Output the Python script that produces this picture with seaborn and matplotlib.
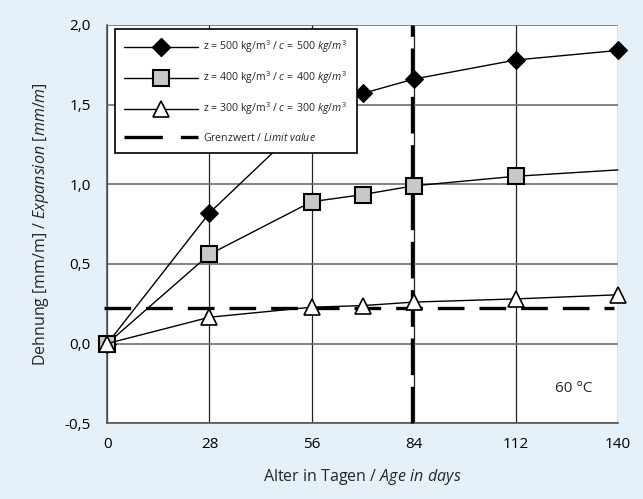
import matplotlib
matplotlib.use("Agg")
import matplotlib.pyplot as plt
import seaborn as sns
import pandas as pd
from matplotlib.lines import Line2D

days = [0, 28, 56, 70, 84, 112, 140]
z500 = [0.0, 0.82, 1.43, 1.57, 1.66, 1.78, 1.84]
z400 = [0.0, 0.56, 0.89, 0.935, 0.99, 1.05, 1.09]
z300 = [0.0, 0.165, 0.228, 0.238, 0.26, 0.28, 0.306]
limit_x = [-1, 139]
limit_y = [0.22, 0.22]
limit_day = 83.5
xticks = [0, 28, 56, 84, 112, 140]
yticks = [-0.5, 0.0, 0.5, 1.0, 1.5, 2.0]
yticklabels = ["-0,5", "0,0", "0,5", "1,0", "1,5", "2,0"]
labels = [r"z = 500 kg/m$^3$ / $\it{c\,{=}\,500\ kg/m^3}$",
          r"z = 400 kg/m$^3$ / $\it{c\,{=}\,400\ kg/m^3}$",
          r"z = 300 kg/m$^3$ / $\it{c\,{=}\,300\ kg/m^3}$",
          r"Grenzwert / $\it{Limit\ value}$"]

sns.set_theme(style="white")
plt.rcParams['font.family'] = ['Open Sans', 'DejaVu Sans']
plt.rcParams['mathtext.fontset'] = 'custom'
plt.rcParams['mathtext.rm'] = 'Open Sans'
plt.rcParams['mathtext.it'] = 'Open Sans:italic'

bg = '#e5f0f8'
fig = plt.figure(figsize=(6.43, 4.99), dpi=100, facecolor=bg)
ax = fig.add_axes([0.167, 0.152, 0.794, 0.798])
ax.set_facecolor('white')

df = pd.DataFrame({"day": days, "z500": z500, "z400": z400, "z300": z300})

sns.lineplot(x=limit_x, y=limit_y, ax=ax, color='black', lw=2.4, zorder=3)
ax.lines[-1].set_linestyle((0, (8, 4.5)))
ax.axvline(limit_day, color='black', lw=2.4, linestyle=(0, (11, 3.5)), zorder=3)

sns.lineplot(data=df, x="day", y="z500", ax=ax, color='black', lw=1, marker='D',
             markersize=9, markerfacecolor='black', markeredgecolor='black', zorder=4)
sns.lineplot(data=df, x="day", y="z400", ax=ax, color='black', lw=1, marker='s',
             markersize=12, markerfacecolor='#c8c8c8', markeredgecolor='black',
             markeredgewidth=1.5, markevery=[0, 1, 2, 3, 4, 5], zorder=4)
sns.lineplot(data=df, x="day", y="z300", ax=ax, color='black', lw=1, marker='^',
             markersize=12, markerfacecolor='white', markeredgecolor='black',
             markeredgewidth=1.2, zorder=5)
for ln in ax.lines:
    ln.set_clip_on(False)

ax.set_xlim(0, 140)
ax.set_ylim(-0.5, 2.0)
ax.set_xticks(xticks)
ax.set_xticklabels([str(t) for t in xticks])
ax.set_yticks(yticks)
ax.set_yticklabels(yticklabels)
ax.xaxis.grid(True, color='#222222', lw=0.9)
ax.yaxis.grid(True, color='#6e6e6e', lw=1.2)
ax.set_axisbelow(True)
for s in ['top', 'right']:
    ax.spines[s].set_visible(False)
for s in ['left', 'bottom']:
    ax.spines[s].set_color('#555555')
    ax.spines[s].set_linewidth(1.2)
ax.tick_params(axis='both', direction='inout', length=8, width=1, color='#555555',
               labelsize=11, labelcolor='black')
ax.tick_params(axis='y', pad=8)
ax.tick_params(axis='x', pad=6)

ax.set_xlabel(r"Alter in Tagen / $\it{Age\ in\ days}$", fontsize=11.5, labelpad=11)
ax.set_ylabel(r"Dehnung [mm/m] / $\it{Expansion\ [mm/m]}$", fontsize=11.5, labelpad=10)

ax.text(128, -0.28, "60 °C", fontsize=11, ha='center', va='center')

handles = [
    Line2D([], [], color='black', lw=1, marker='D', markersize=9, markerfacecolor='black'),
    Line2D([], [], color='black', lw=1, marker='s', markersize=12, markerfacecolor='#c8c8c8',
           markeredgecolor='black', markeredgewidth=1.5),
    Line2D([], [], color='black', lw=1, marker='^', markersize=12, markerfacecolor='white',
           markeredgecolor='black', markeredgewidth=1.2),
    Line2D([], [], color='black', lw=2.4, linestyle=(0, (11.5, 5.4))),
]
leg = ax.legend(handles, labels, loc='upper left', bbox_to_anchor=(0.01, 0.995),
                fontsize=7.6, handlelength=7, frameon=True, fancybox=False,
                borderpad=0.9, labelspacing=1.35, handletextpad=0.5, borderaxespad=0.2)
leg.get_frame().set_edgecolor('black')
leg.get_frame().set_linewidth(1.2)
leg.get_frame().set_alpha(1)
leg.set_zorder(10)

fig.savefig("out.png", dpi=100, facecolor=bg)
